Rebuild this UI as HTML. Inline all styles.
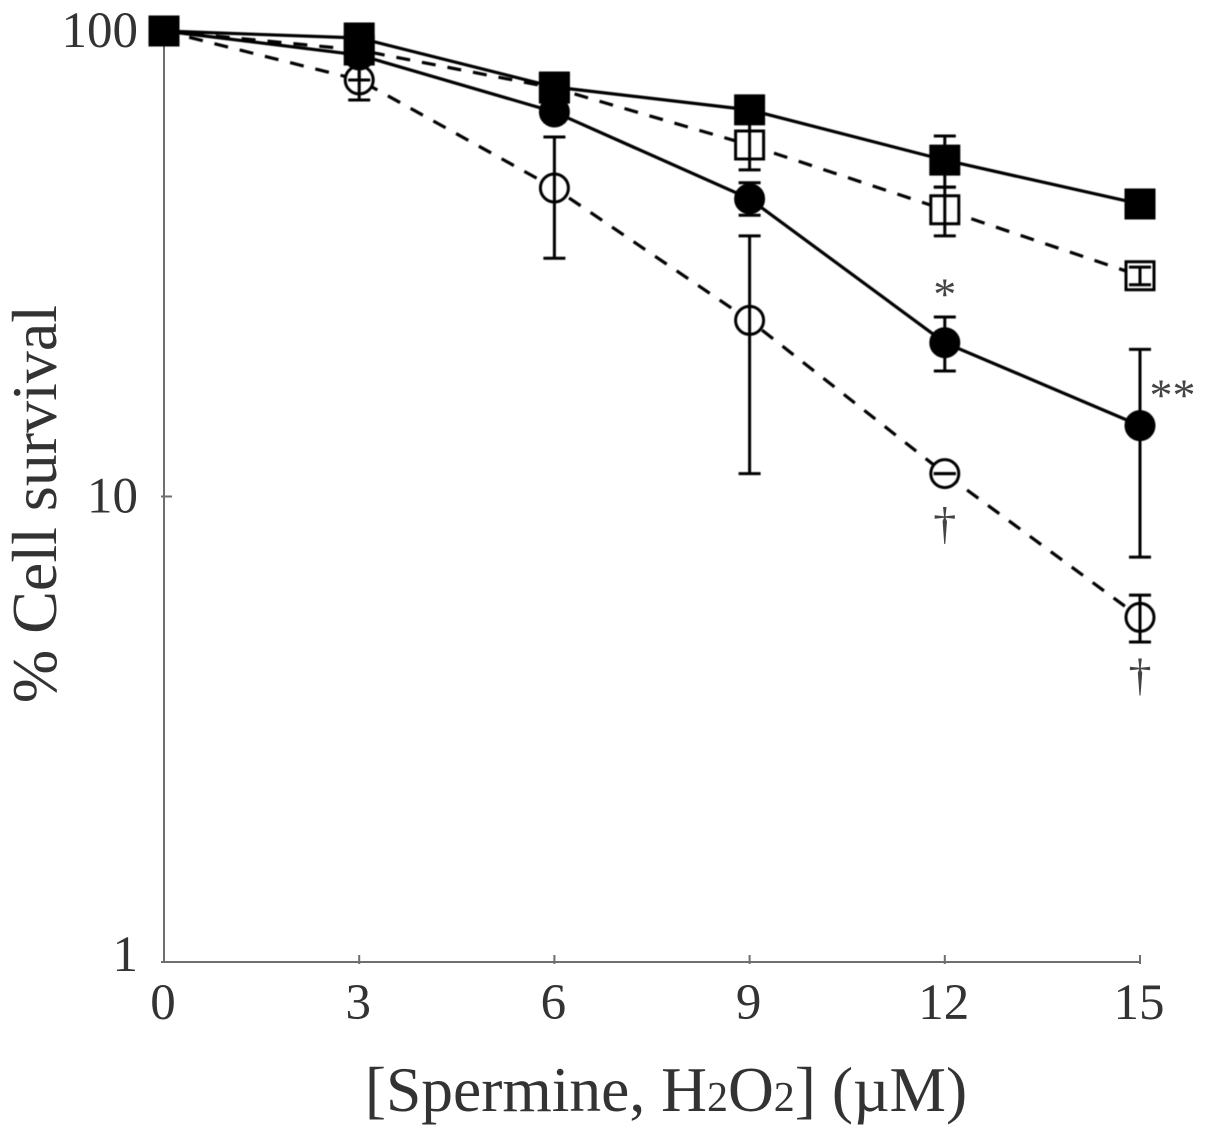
<!DOCTYPE html>
<html lang="en">
<head>
<meta charset="utf-8">
<title>Cell survival chart</title>
<style>
html,body{margin:0;padding:0;background:#fff;}
#chart{display:block;width:1205px;height:1136px;font-family:"Liberation Serif",serif;}
</style>
</head>
<body>
<svg id="chart" xmlns="http://www.w3.org/2000/svg" width="1205" height="1136" viewBox="0 0 1205 1136">
  <rect width="1205" height="1136" fill="#fff"/>
  <g id="axes"></g>
  <g id="plot" style="filter:blur(0.4px)"></g>
  <g id="notes"></g>
  <text x="666" y="1111" text-anchor="middle" font-size="63.5" fill="#333">[Spermine, H<tspan font-size="42" dy="0">2</tspan>O<tspan font-size="42">2</tspan>] (µM)</text>
  <text transform="translate(56,504) rotate(-90)" text-anchor="middle" font-size="64" fill="#333">% Cell survival</text>
</svg>
<script>
const doses = [0, 3, 6, 9, 12, 15];
const xTickLabels = ["0", "3", "6", "9", "12", "15"];
const yTicks = [100, 10, 1];

const filledSquare = [100, 96.6, 75.8, 67.7, 52.8, 42.5];
const filledSquareHigh = [100, 100, 79.3, 72.1, 59.5, 43.6];
const filledSquareLow = [100, 92.9, 72.5, 63.4, 46.2, 41.5];

const openSquare = [100, 91, 75.4, 56.9, 41.3, 29.8];
const openSquareHigh = [100, 94.7, 78.5, 65, 46.2, 31.1];
const openSquareLow = [100, 87.5, 72.5, 50.3, 36.3, 28.5];

const filledCircle = [100, 88.8, 67, 43.6, 21.4, 14.2];
const filledCircleHigh = [100, 91, 71.1, 47.2, 24.3, 20.7];
const filledCircleLow = [100, 78.5, 63.8, 40.2, 18.6, 7.41];

const openCircle = [100, 78.5, 46, 23.9, 11.2, 5.5];
const openCircleHigh = [100, 85.8, 59.2, 36.3, 11.2, 6.14];
const openCircleLow = [100, 71.1, 32.5, 11.2, 11.2, 4.87];

const noteLabels = ["*", "**", "†", "†"];
const noteDoses = [12, 15.5, 12, 15];
const noteValues = [21.4, 14.5, 11.2, 5.3];

const SVGNS = "http://www.w3.org/2000/svg";
const xScale = function (d) { return 164 + d * (976 / 15); };
const yScale = function (v) { return 31 + (2 - Math.log10(v)) * 465.5; };

function mk(tag, parent, attrs) {
  const el = document.createElementNS(SVGNS, tag);
  for (const k in attrs) el.setAttribute(k, attrs[k]);
  parent.appendChild(el);
  return el;
}

const axes = document.getElementById("axes");
const plot = document.getElementById("plot");
const notes = document.getElementById("notes");
const AXIS = "#6e6e6e";

const yAxis = mk("line", axes, {x1: xScale(0), x2: xScale(0), y1: yScale(100), y2: yScale(1) + 1, stroke: AXIS, "stroke-width": 2});


const xAxis = mk("line", axes, {x1: xScale(0) - 1, x2: xScale(15) + 1, y1: yScale(1), y2: yScale(1), stroke: AXIS, "stroke-width": 2});



doses.forEach(function (d, i) {
  const x = xScale(d);
  if (i > 0) {
    const t = mk("line", axes, {x1: x, x2: x, y1: yScale(1) - 7, y2: yScale(1) + 2, stroke: AXIS, "stroke-width": 2});
    
    
  }
  const lab = mk("text", axes, {x: x - 1, y: 1019, "text-anchor": "middle", "font-size": 51, fill: "#333"});
  lab.textContent = xTickLabels[i];
  
  
});

yTicks.forEach(function (v) {
  const y = yScale(v);
  const t = mk("line", axes, {x1: xScale(0) - 3, x2: xScale(0) + 8, y1: y, y2: y, stroke: AXIS, "stroke-width": 2});
  
  
  const lab = mk("text", axes, {x: 138, y: Math.min(y + 16, 971), "text-anchor": "end", "font-size": 51, fill: "#333"});
  lab.textContent = String(v);
  
  
});

const SIZE = 30;
const INK = "#000";
function drawSeries(name, values, high, low, shape, filled, dashed) {
  const g = mk("g", plot, {});
  
  

  const pts = values.map(function (v, i) { return xScale(doses[i]) + "," + yScale(v); }).join(" ");
  const line = mk("polyline", g, {points: pts, fill: "none", stroke: INK, "stroke-width": 3.2});
  if (dashed) line.setAttribute("stroke-dasharray", "14 12");
  
  

  values.forEach(function (v, i) {
    const x = xScale(doses[i]);
    const y = yScale(v);
    let m;
    if (shape === "square") {
      m = mk("rect", g, {x: x - SIZE / 2 + 1, y: y - SIZE / 2 + 1, width: SIZE - 2, height: SIZE - 2});
    } else {
      m = mk("circle", g, {cx: x, cy: y, r: SIZE / 2 - 1});
    }
    m.setAttribute("fill", filled ? INK : "#fff");
    m.setAttribute("stroke", INK);
    m.setAttribute("stroke-width", 3);
    
    

    if (i > 0) {
      const yh = yScale(high[i]);
      const yl = yScale(low[i]);
      const stem = mk("line", g, {x1: x, x2: x, y1: yh, y2: yl, stroke: INK, "stroke-width": 3});
      
      
      const capTop = mk("line", g, {x1: x - 11, x2: x + 11, y1: yh, y2: yh, stroke: INK, "stroke-width": 3});
      
      
      const capBottom = mk("line", g, {x1: x - 11, x2: x + 11, y1: yl, y2: yl, stroke: INK, "stroke-width": 3});
      
      
    }
  });
}

drawSeries("series-open-circle", openCircle, openCircleHigh, openCircleLow, "circle", false, true);
drawSeries("series-open-square", openSquare, openSquareHigh, openSquareLow, "square", false, true);
drawSeries("series-filled-circle", filledCircle, filledCircleHigh, filledCircleLow, "circle", true, false);
drawSeries("series-filled-square", filledSquare, filledSquareHigh, filledSquareLow, "square", true, false);

noteLabels.forEach(function (s, i) {
  const isStar = s.indexOf("*") === 0;
  const offset = isStar ? (s.length > 1 ? -11 : -33) : 65;
  const t = mk("text", notes, {x: xScale(noteDoses[i]), y: yScale(noteValues[i]) + offset, "text-anchor": "middle", "font-size": 46, fill: "#444"});
  t.textContent = s;
  
  
});
</script>
</body>
</html>
